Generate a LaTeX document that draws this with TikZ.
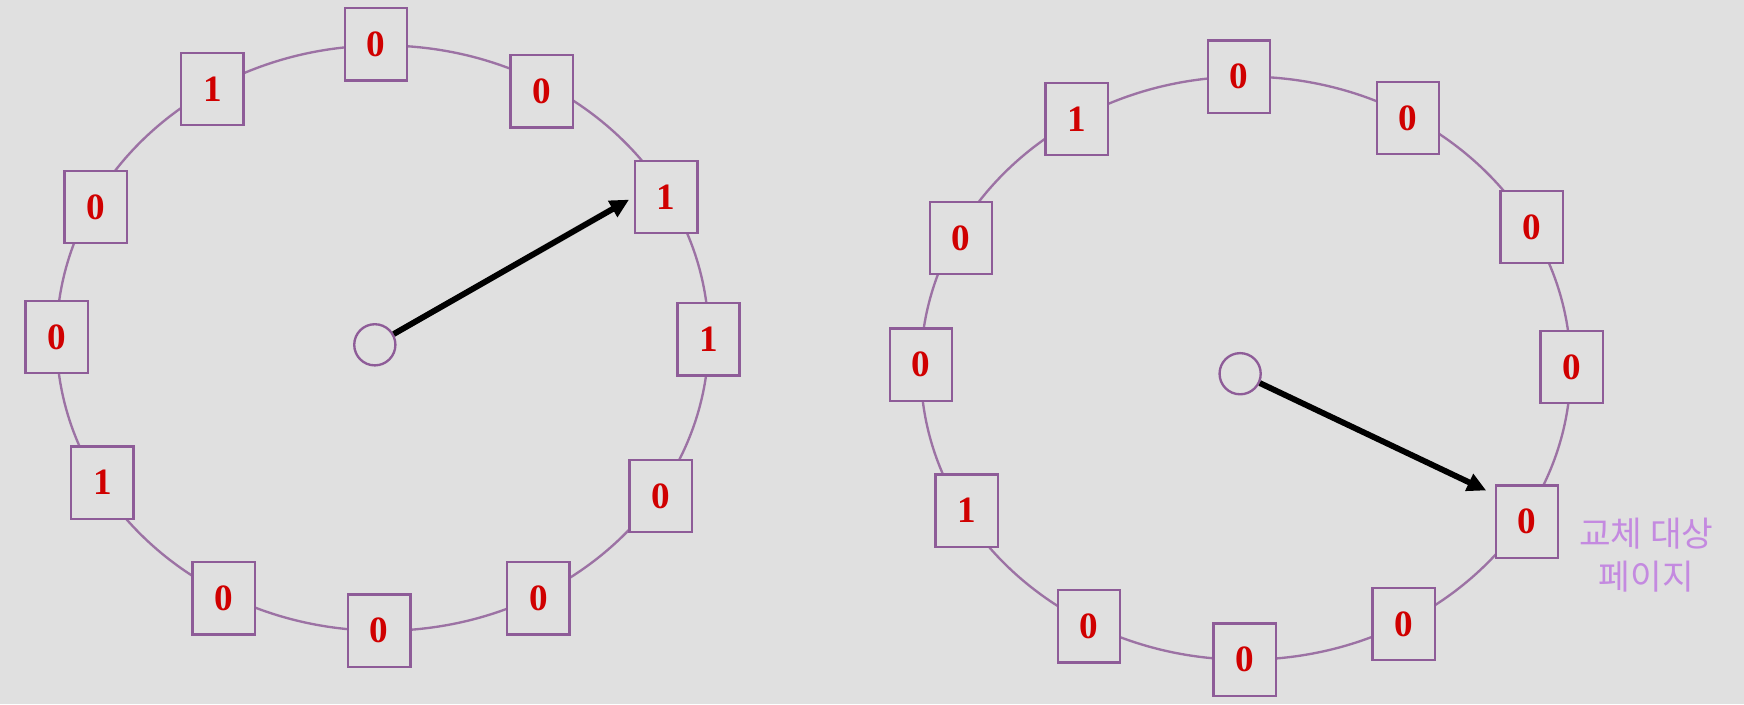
\documentclass[tikz,border=0pt]{standalone}
\usepackage{fontspec}
\setmainfont{Liberation Serif}
\newfontfamily\kor{Noto Sans CJK KR}
\usepackage{tikz}
\usetikzlibrary{arrows.meta,positioning}
\definecolor{bgcol}{HTML}{E0E0E0}
\definecolor{boxcol}{HTML}{8E5C98}
\definecolor{ringcol}{HTML}{9C72A4}
\definecolor{bitcol}{HTML}{D00000}
\definecolor{notecol}{HTML}{C48AE0}

\begin{document}
\begin{tikzpicture}[x=0.01cm, y=-0.01cm,
        frame/.style={draw=boxcol, line width=0.6pt, fill=bgcol, minimum width=0.56cm, minimum height=0.65cm, inner sep=0pt, text=bitcol, font=\fontsize{9.5}{11}\selectfont\bfseries},
        hub/.style={circle, draw=boxcol, line width=0.6pt, minimum size=0.37cm, inner sep=0pt},
        hand/.style={-{Triangle[length=0.17cm, width=0.16cm]}, line width=1.5pt, black},
        ring/.style={draw=ringcol, line width=0.6pt},
        note/.style={text=notecol, inner sep=0pt, align=center, font=\kor\fontsize{8.8}{11}\selectfont}]
        \fill[bgcol] (0,0) rectangle (1568,633);

        % left clock
        \draw[ring] (344,304) ellipse [x radius=2.93cm, y radius=2.63cm];
        \node[hub] (LC) at (337,310) {};
        \node[frame] (L1) at (338,40) {0};
        \node[frame] (L2) at (487,82) {0};
        \node[frame] (L3) at (599,177) {1};
        \node[frame] (L4) at (637,305) {1};
        \node[frame] (L5) at (594,446) {0};
        \node[frame] (L6) at (484,538) {0};
        \node[frame] (L7) at (341,567) {0};
        \node[frame] (L8) at (201,538) {0};
        \node[frame] (L9) at (92,434) {1};
        \node[frame] (L10) at (51,303) {0};
        \node[frame] (L11) at (86,186) {0};
        \node[frame] (L12) at (191,80) {1};

        % right clock
        \draw[ring] (1120,331) ellipse [x radius=2.92cm, y radius=2.62cm];
        \node[hub] (RC) at (1115,336) {};
        \node[frame] (R1) at (1114,69) {0};
        \node[frame] (R2) at (1266,106) {0};
        \node[frame] (R3) at (1377,204) {0};
        \node[frame] (R4) at (1413,330) {0};
        \node[frame] (R5) at (1373,469) {0};
        \node[frame] (R6) at (1262,561) {0};
        \node[frame] (R7) at (1119,593) {0};
        \node[frame] (R8) at (979,563) {0};
        \node[frame] (R9) at (869,459) {1};
        \node[frame] (R10) at (828,328) {0};
        \node[frame] (R11) at (864,214) {0};
        \node[frame] (R12) at (968,107) {1};

        \node[note, anchor=north west] (V) [below right=0.3cm and 0.17cm of R5.north east] {교체 대상\\페이지};

        \path
          (LC) edge[hand, shorten >=0.05cm] (L3.west)
          (RC) edge[hand, shorten >=0.085cm] (R5.140);
  \end{tikzpicture}
\end{document}
